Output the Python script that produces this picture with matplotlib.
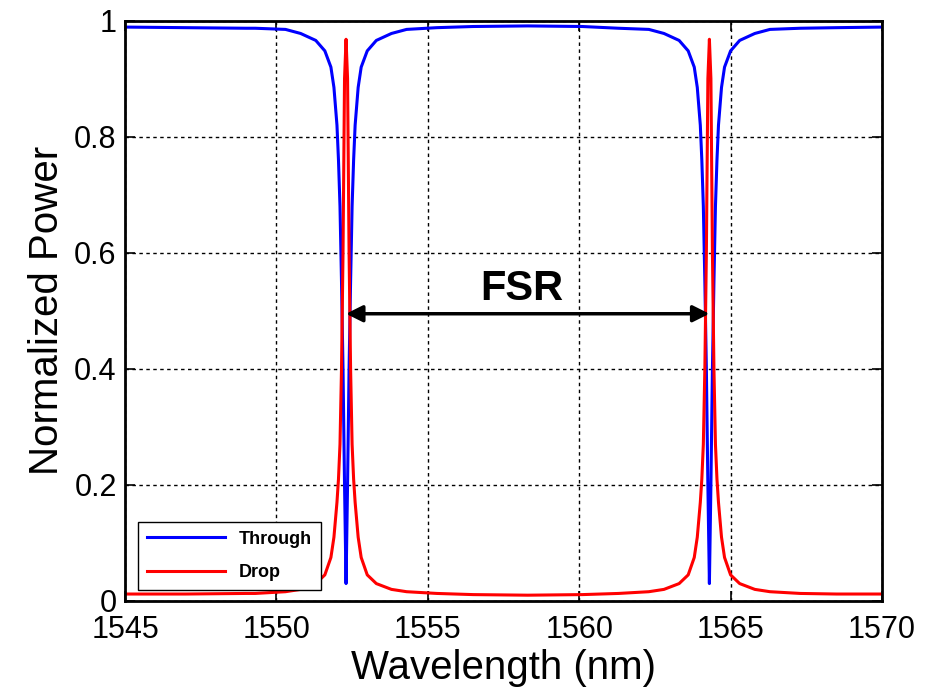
import matplotlib
matplotlib.use("Agg")
import matplotlib.pyplot as plt

plt.rcParams['font.family'] = ['Liberation Sans', 'DejaVu Sans']

# Wavelength grid (nm) and values
wavelength = [1545.0, 1547.0, 1549.0, 1549.3, 1550.3, 1550.8, 1551.3, 1551.6, 1551.8,
              1551.9, 1552.0, 1552.05, 1552.1, 1552.15, 1552.2, 1552.25, 1552.3,
              1552.35, 1552.4, 1552.45, 1552.5, 1552.55, 1552.6, 1552.7, 1552.8,
              1553.0, 1553.3, 1553.8, 1554.3, 1555.3, 1556.5, 1558.3, 1560.1,
              1561.3, 1562.3, 1562.8, 1563.3, 1563.6, 1563.8, 1563.9, 1564.0,
              1564.05, 1564.1, 1564.15, 1564.2, 1564.25, 1564.3, 1564.35, 1564.4,
              1564.45, 1564.5, 1564.55, 1564.6, 1564.7, 1564.8, 1565.0, 1565.3,
              1565.8, 1566.3, 1567.3, 1568.5, 1570.0]

through = [0.989, 0.988, 0.987, 0.987, 0.985, 0.978, 0.966, 0.948, 0.92,
           0.885, 0.82, 0.76, 0.68, 0.55, 0.40, 0.20, 0.03,
           0.20, 0.40, 0.55, 0.68, 0.76, 0.82, 0.885, 0.92,
           0.948, 0.966, 0.978, 0.985, 0.988, 0.990, 0.991, 0.990,
           0.987, 0.985, 0.978, 0.966, 0.948, 0.92, 0.885, 0.82,
           0.76, 0.68, 0.55, 0.40, 0.20, 0.03, 0.20, 0.40,
           0.55, 0.68, 0.76, 0.82, 0.885, 0.92, 0.948, 0.966,
           0.978, 0.985, 0.987, 0.988, 0.989]

drop = [0.012, 0.012, 0.013, 0.013, 0.016, 0.020, 0.030, 0.045, 0.075,
        0.11, 0.17, 0.21, 0.27, 0.40, 0.60, 0.90, 0.968,
        0.90, 0.60, 0.40, 0.27, 0.21, 0.17, 0.11, 0.075,
        0.045, 0.030, 0.020, 0.016, 0.013, 0.011, 0.010, 0.011,
        0.013, 0.016, 0.020, 0.030, 0.045, 0.075, 0.11, 0.17,
        0.21, 0.27, 0.40, 0.60, 0.90, 0.968, 0.90, 0.60,
        0.40, 0.27, 0.21, 0.17, 0.11, 0.075, 0.045, 0.030,
        0.020, 0.016, 0.013, 0.012, 0.012]

x_ticks = [1545, 1550, 1555, 1560, 1565, 1570]
y_ticks = [0, 0.2, 0.4, 0.6, 0.8, 1]
y_tick_labels = ['0', '0.2', '0.4', '0.6', '0.8', '1']

# FSR arrow between the two resonances
fsr_start = 1552.3
fsr_end = 1564.3
fsr_level = 0.495

fig = plt.figure(figsize=(9.35, 6.9), dpi=100)
ax = fig.add_axes([0.1337, 0.129, 0.8096, 0.841])

ax.plot(wavelength, through, color='#0000ff', lw=2.2, label='Through')
ax.plot(wavelength, drop, color='#ff0000', lw=2.2, label='Drop')

ax.set_xlim(1545, 1570)
ax.set_ylim(0, 1)
ax.set_xticks(x_ticks)
ax.set_yticks(y_ticks)
ax.set_yticklabels(y_tick_labels)
ax.tick_params(direction='in', length=7, width=1.2, labelsize=22,
               top=True, right=True, pad=6)
ax.tick_params(axis='x', pad=10)
for s in ax.spines.values():
    s.set_linewidth(2)
ax.grid(True, color='black', linestyle=(0, (2.5, 2.5)), linewidth=1)

ax.set_xlabel('Wavelength (nm)', fontsize=29, labelpad=3)
ax.set_ylabel('Normalized Power', fontsize=29, labelpad=6)

ax.annotate('', xy=(fsr_start, fsr_level), xytext=(fsr_end, fsr_level),
            arrowprops=dict(arrowstyle='<|-|>', color='black', lw=2.5,
                            mutation_scale=25, shrinkA=0, shrinkB=0))
ax.text((fsr_start + fsr_end) / 2 - 0.2, 0.537, 'FSR', fontsize=30,
        fontweight='bold', ha='center', va='center')

leg = ax.legend(loc='lower left', bbox_to_anchor=(0.017, 0.019), fancybox=False,
                edgecolor='black', framealpha=1, handlelength=4.3,
                labelspacing=0.9, prop={'weight': 'bold', 'size': 13},
                borderaxespad=0, borderpad=0.5)
leg.get_frame().set_linewidth(1)

fig.savefig('out.png', dpi=100)
